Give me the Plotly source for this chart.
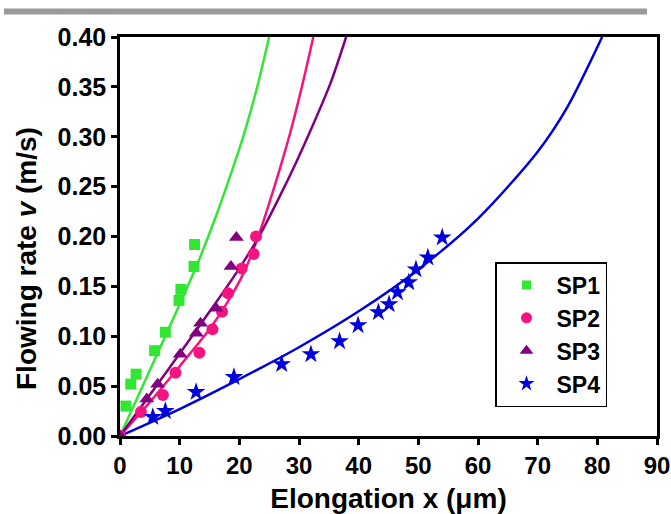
import plotly.graph_objects as go

# ---- measured data ----
sp1_x = [1.0, 1.8, 2.7, 5.8, 7.6, 9.9, 10.2, 12.4, 12.5]
sp1_y = [0.030, 0.052, 0.062, 0.0855, 0.104, 0.136, 0.147, 0.170, 0.192]

sp2_x = [0.0, 3.5, 7.2, 9.3, 13.3, 15.5, 17.1, 18.1, 20.4, 22.4, 22.8]
sp2_y = [0.0, 0.024, 0.041, 0.0635, 0.0835, 0.107, 0.1246, 0.143, 0.168, 0.1825, 0.200]

sp3_x = [0.0, 4.5, 6.3, 10.1, 12.8, 13.5, 16.1, 18.6, 19.5]
sp3_y = [0.0, 0.037, 0.052, 0.082, 0.103, 0.113, 0.128, 0.170, 0.199]

sp4_x = [5.5, 7.6, 12.75, 19.1, 27.1, 32.0, 36.8, 39.9, 43.3, 45.1, 46.5, 48.4, 49.6, 51.6, 54.0]
sp4_y = [0.019, 0.025, 0.044, 0.059, 0.072, 0.082, 0.095, 0.111, 0.124, 0.132, 0.144, 0.154, 0.167, 0.179, 0.199]

# fitted curves
fit1_x = [0.0, 5.0, 10.0, 13.0, 16.0, 19.0, 21.0, 23.0, 25.0]
fit1_y = [0.0, 0.066, 0.132, 0.173, 0.219, 0.270, 0.307, 0.350, 0.400]

fit2_x = [0.0, 5.0, 10.0, 15.0, 18.0, 20.7, 23.2, 25.2, 27.0, 28.8, 30.6, 32.4]
fit2_y = [0.0, 0.034, 0.070, 0.107, 0.134, 0.163, 0.2005, 0.237, 0.272, 0.310, 0.353, 0.400]

fit3_x = [0.0, 8.0, 16.0, 20.0, 23.3, 26.5, 29.5, 32.5, 35.3, 37.9]
fit3_y = [0.0, 0.066, 0.133, 0.168, 0.200, 0.237, 0.274, 0.314, 0.354, 0.400]

fit4_x = [0.0, 10.0, 20.0, 30.0, 40.0, 50.0, 60.0, 70.0, 75.0, 80.8]
fit4_y = [0.0, 0.027, 0.057, 0.089, 0.125, 0.167, 0.218, 0.285, 0.330, 0.400]

names = ["SP1", "SP2", "SP3", "SP4"]
colors = ["#33e633", "#f5147f", "#800080", "#0000dd"]
symbols = ["square", "circle", "triangle-up", "star"]
msizes = [11, 12, 13, 14]
legsizes = [9, 11, 12, 12]

pts = [(sp1_x, sp1_y), (sp2_x, sp2_y), (sp3_x, sp3_y), (sp4_x, sp4_y)]
fits = [(fit1_x, fit1_y), (fit2_x, fit2_y), (fit3_x, fit3_y), (fit4_x, fit4_y)]

fig = go.Figure()
for (fx, fy), c in zip(fits, colors):
    fig.add_trace(go.Scatter(x=fx, y=fy, mode="lines", line=dict(color=c, width=2.5, shape="spline", smoothing=0.8),
                             showlegend=False, hoverinfo="skip"))
for (px, py), n, c, s, m in zip(pts, names, colors, symbols, msizes):
    fig.add_trace(go.Scatter(x=px, y=py, mode="markers", name=n, showlegend=False,
                             marker=dict(color=c, symbol=s, size=m, line=dict(width=0))))
# legend entries (smaller symbols as in the reference legend)
for n, c, s, m in zip(names, colors, symbols, legsizes):
    fig.add_trace(go.Scatter(x=[None], y=[None], mode="markers", name=n,
                             marker=dict(color=c, symbol=s, size=m, line=dict(width=0))))

FONT = "Liberation Sans, Arial, sans-serif"
L, R, T, B = 120, 14, 37, 78
W, H = 671, 514
pw, ph = W - L - R, H - T - B

def xp(px):
    return (px - L) / pw

def yp(py):
    return (H - B - py) / ph

fig.update_layout(
    width=W, height=H,
    margin=dict(l=L, r=R, t=T, b=B, autoexpand=False),
    plot_bgcolor="white", paper_bgcolor="white",
    font=dict(family=FONT, color="black"),
    showlegend=True,
    legend=dict(x=xp(495), y=yp(262), xanchor="left", yanchor="top",
                bgcolor="white", bordercolor="black", borderwidth=1.5,
                font=dict(family=FONT, size=23, weight="bold", color="black"),
                itemwidth=50, tracegroupgap=0),
    xaxis=dict(range=[0, 90], dtick=10, tick0=0, showgrid=False, zeroline=False,
               showline=True, mirror=True, linecolor="black", linewidth=2.5,
               ticks="outside", ticklen=6, tickwidth=2.5, tickcolor="black",
               tickfont=dict(family=FONT, size=24, weight="bold"), automargin=False,
               title=dict(text="Elongation x (μm)", font=dict(family=FONT, size=28, weight="bold"),
                          standoff=11)),
    yaxis=dict(range=[0, 0.40], dtick=0.05, tick0=0, tickformat=".2f", showgrid=False, zeroline=False,
               showline=True, mirror=True, linecolor="black", linewidth=2.5,
               ticks="outside", ticklen=6, tickwidth=2.5, tickcolor="black",
               tickfont=dict(family=FONT, size=25, weight="bold"), automargin=False),
    shapes=[dict(type="rect", xref="paper", yref="paper", x0=xp(4), x1=xp(647), y0=yp(14.5), y1=yp(8.5),
                 fillcolor="#9a9a9a", line=dict(width=0), layer="above")],
    annotations=[dict(text="Flowing rate <i>v</i> (m/s)", textangle=-90, xref="paper", yref="paper",
                      x=xp(26), y=yp(259), xanchor="center", yanchor="middle", showarrow=False,
                      font=dict(family=FONT, size=28, weight="bold", color="black"))],
)

fig.write_html("out.html", config={"displayModeBar": False},
               post_script="document.body.style.margin='0';document.body.style.overflow='hidden';")
